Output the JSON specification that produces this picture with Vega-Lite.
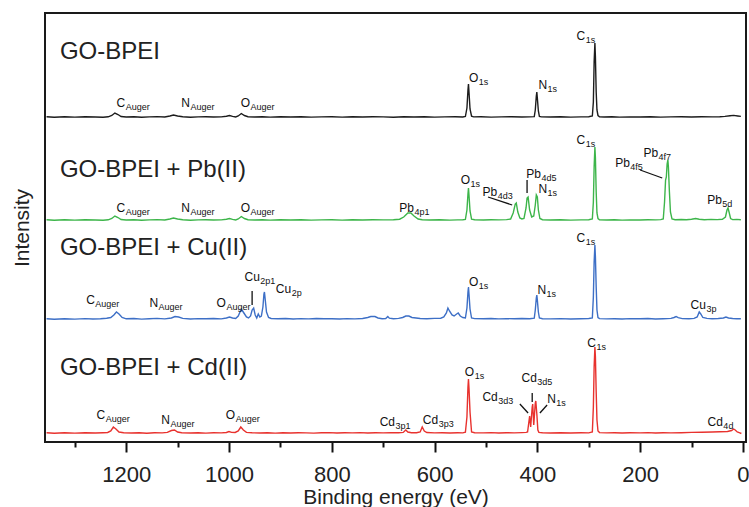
{
"$schema":"https://vega.github.io/schema/vega-lite/v6.json",
"width":701,"height":429,
"autosize":{"type":"none"},
"padding":{"left":45,"top":13,"right":3,"bottom":65},
"background":"white",
"config":{"view":{"stroke":"#1a1a1a","strokeWidth":2},"font":"Liberation Sans"},
"datasets":{
"spectra":[
{"s":"BPEI","e":1355,"i":325.2},{"s":"BPEI","e":1340,"i":324.8},{"s":"BPEI","e":1320,"i":325.3},{"s":"BPEI","e":1300,"i":324.9},{"s":"BPEI","e":1280,"i":325.2},{"s":"BPEI","e":1260,"i":325.0},{"s":"BPEI","e":1245,"i":324.8},{"s":"BPEI","e":1235,"i":325.2},{"s":"BPEI","e":1228,"i":326.5},{"s":"BPEI","e":1222,"i":329},{"s":"BPEI","e":1216,"i":327.5},{"s":"BPEI","e":1210,"i":325.5},{"s":"BPEI","e":1200,"i":325.0},{"s":"BPEI","e":1185,"i":325.3},{"s":"BPEI","e":1170,"i":324.8},{"s":"BPEI","e":1155,"i":325.1},{"s":"BPEI","e":1140,"i":325.4},{"s":"BPEI","e":1125,"i":325.0},{"s":"BPEI","e":1115,"i":326},{"s":"BPEI","e":1108,"i":327},{"s":"BPEI","e":1100,"i":326},{"s":"BPEI","e":1090,"i":325.2},{"s":"BPEI","e":1075,"i":324.8},{"s":"BPEI","e":1060,"i":325.1},{"s":"BPEI","e":1045,"i":325.3},{"s":"BPEI","e":1030,"i":325.0},{"s":"BPEI","e":1015,"i":325.1},{"s":"BPEI","e":1005,"i":325.8},{"s":"BPEI","e":999,"i":326.5},{"s":"BPEI","e":993,"i":325.6},{"s":"BPEI","e":987,"i":325.0},{"s":"BPEI","e":982,"i":326},{"s":"BPEI","e":976,"i":328.5},{"s":"BPEI","e":970,"i":326.5},{"s":"BPEI","e":963,"i":325.3},{"s":"BPEI","e":950,"i":325.0},{"s":"BPEI","e":935,"i":325.2},{"s":"BPEI","e":920,"i":324.9},{"s":"BPEI","e":900,"i":325.2},{"s":"BPEI","e":880,"i":325.0},{"s":"BPEI","e":860,"i":325.3},{"s":"BPEI","e":840,"i":324.9},{"s":"BPEI","e":820,"i":325.1},{"s":"BPEI","e":800,"i":325.3},{"s":"BPEI","e":780,"i":324.9},{"s":"BPEI","e":760,"i":325.2},{"s":"BPEI","e":740,"i":325.0},{"s":"BPEI","e":720,"i":325.3},{"s":"BPEI","e":700,"i":325.1},{"s":"BPEI","e":680,"i":324.8},{"s":"BPEI","e":660,"i":325.2},{"s":"BPEI","e":640,"i":325.0},{"s":"BPEI","e":620,"i":325.2},{"s":"BPEI","e":600,"i":324.9},{"s":"BPEI","e":580,"i":325.1},{"s":"BPEI","e":560,"i":325.2},{"s":"BPEI","e":545,"i":325.0},{"s":"BPEI","e":540,"i":325.5},{"s":"BPEI","e":537,"i":334},{"s":"BPEI","e":535,"i":352},{"s":"BPEI","e":534,"i":358},{"s":"BPEI","e":533,"i":350},{"s":"BPEI","e":531,"i":333},{"s":"BPEI","e":528,"i":325.8},{"s":"BPEI","e":524,"i":325.1},{"s":"BPEI","e":510,"i":325.2},{"s":"BPEI","e":490,"i":324.9},{"s":"BPEI","e":470,"i":325.1},{"s":"BPEI","e":450,"i":325.3},{"s":"BPEI","e":430,"i":325.0},{"s":"BPEI","e":415,"i":325.1},{"s":"BPEI","e":406,"i":325.4},{"s":"BPEI","e":404,"i":332},{"s":"BPEI","e":402,"i":346},{"s":"BPEI","e":401,"i":350},{"s":"BPEI","e":400,"i":344},{"s":"BPEI","e":398,"i":331},{"s":"BPEI","e":396,"i":325.6},{"s":"BPEI","e":392,"i":325.1},{"s":"BPEI","e":375,"i":325.0},{"s":"BPEI","e":355,"i":325.2},{"s":"BPEI","e":335,"i":324.9},{"s":"BPEI","e":315,"i":325.1},{"s":"BPEI","e":300,"i":325.3},{"s":"BPEI","e":293,"i":326},{"s":"BPEI","e":291,"i":340},{"s":"BPEI","e":289.5,"i":380},{"s":"BPEI","e":288,"i":399},{"s":"BPEI","e":287,"i":385},{"s":"BPEI","e":285.5,"i":350},{"s":"BPEI","e":284,"i":332},{"s":"BPEI","e":282,"i":326.5},{"s":"BPEI","e":279,"i":325.3},{"s":"BPEI","e":270,"i":325.0},{"s":"BPEI","e":255,"i":325.2},{"s":"BPEI","e":240,"i":324.9},{"s":"BPEI","e":220,"i":325.1},{"s":"BPEI","e":200,"i":325.0},{"s":"BPEI","e":180,"i":325.2},{"s":"BPEI","e":160,"i":324.9},{"s":"BPEI","e":140,"i":325.1},{"s":"BPEI","e":120,"i":325.3},{"s":"BPEI","e":100,"i":325.0},{"s":"BPEI","e":80,"i":325.2},{"s":"BPEI","e":60,"i":325.1},{"s":"BPEI","e":45,"i":325.3},{"s":"BPEI","e":35,"i":325.6},{"s":"BPEI","e":25,"i":326.3},{"s":"BPEI","e":18,"i":326.6},{"s":"BPEI","e":10,"i":326.0},{"s":"BPEI","e":4,"i":325.6},
{"s":"Pb","e":1355,"i":222.2},{"s":"Pb","e":1340,"i":221.8},{"s":"Pb","e":1320,"i":222.3},{"s":"Pb","e":1300,"i":221.9},{"s":"Pb","e":1280,"i":222.2},{"s":"Pb","e":1260,"i":222.0},{"s":"Pb","e":1245,"i":221.8},{"s":"Pb","e":1235,"i":222.2},{"s":"Pb","e":1228,"i":223.5},{"s":"Pb","e":1222,"i":226},{"s":"Pb","e":1216,"i":224.5},{"s":"Pb","e":1210,"i":222.5},{"s":"Pb","e":1200,"i":222.0},{"s":"Pb","e":1185,"i":222.3},{"s":"Pb","e":1170,"i":221.8},{"s":"Pb","e":1155,"i":222.1},{"s":"Pb","e":1140,"i":222.4},{"s":"Pb","e":1125,"i":222.0},{"s":"Pb","e":1115,"i":223},{"s":"Pb","e":1108,"i":224},{"s":"Pb","e":1100,"i":223},{"s":"Pb","e":1090,"i":222.2},{"s":"Pb","e":1075,"i":221.8},{"s":"Pb","e":1060,"i":222.1},{"s":"Pb","e":1045,"i":222.3},{"s":"Pb","e":1030,"i":222.0},{"s":"Pb","e":1015,"i":222.1},{"s":"Pb","e":1005,"i":222.8},{"s":"Pb","e":999,"i":223.5},{"s":"Pb","e":993,"i":222.6},{"s":"Pb","e":987,"i":222.0},{"s":"Pb","e":982,"i":223},{"s":"Pb","e":976,"i":225.5},{"s":"Pb","e":970,"i":223.5},{"s":"Pb","e":963,"i":222.3},{"s":"Pb","e":950,"i":222.0},{"s":"Pb","e":935,"i":222.2},{"s":"Pb","e":920,"i":221.9},{"s":"Pb","e":900,"i":222.2},{"s":"Pb","e":880,"i":222.0},{"s":"Pb","e":860,"i":222.3},{"s":"Pb","e":840,"i":221.9},{"s":"Pb","e":820,"i":222.1},{"s":"Pb","e":800,"i":222.3},{"s":"Pb","e":780,"i":221.9},{"s":"Pb","e":760,"i":222.2},{"s":"Pb","e":740,"i":222.0},{"s":"Pb","e":720,"i":222.3},{"s":"Pb","e":700,"i":222.1},{"s":"Pb","e":680,"i":222.2},{"s":"Pb","e":668,"i":222.8},{"s":"Pb","e":660,"i":225},{"s":"Pb","e":652,"i":229},{"s":"Pb","e":646,"i":229},{"s":"Pb","e":640,"i":226},{"s":"Pb","e":632,"i":223},{"s":"Pb","e":624,"i":222.3},{"s":"Pb","e":610,"i":222.0},{"s":"Pb","e":590,"i":222.2},{"s":"Pb","e":570,"i":221.9},{"s":"Pb","e":555,"i":222.1},{"s":"Pb","e":545,"i":222.2},{"s":"Pb","e":540,"i":222.6},{"s":"Pb","e":537,"i":232},{"s":"Pb","e":535,"i":248},{"s":"Pb","e":534,"i":254},{"s":"Pb","e":533,"i":247},{"s":"Pb","e":531,"i":231},{"s":"Pb","e":528,"i":222.8},{"s":"Pb","e":522,"i":222.2},{"s":"Pb","e":505,"i":222.0},{"s":"Pb","e":490,"i":222.3},{"s":"Pb","e":475,"i":222.1},{"s":"Pb","e":460,"i":222.4},{"s":"Pb","e":452,"i":223},{"s":"Pb","e":447,"i":229},{"s":"Pb","e":443,"i":238},{"s":"Pb","e":441,"i":239},{"s":"Pb","e":438,"i":230},{"s":"Pb","e":434,"i":224},{"s":"Pb","e":430,"i":223},{"s":"Pb","e":426,"i":223.5},{"s":"Pb","e":422,"i":234},{"s":"Pb","e":420,"i":244},{"s":"Pb","e":418,"i":245},{"s":"Pb","e":415,"i":232},{"s":"Pb","e":411,"i":225},{"s":"Pb","e":407,"i":226},{"s":"Pb","e":404,"i":237},{"s":"Pb","e":402,"i":247},{"s":"Pb","e":400,"i":245},{"s":"Pb","e":398,"i":232},{"s":"Pb","e":395,"i":223.5},{"s":"Pb","e":390,"i":222.3},{"s":"Pb","e":375,"i":222.0},{"s":"Pb","e":355,"i":222.2},{"s":"Pb","e":335,"i":221.9},{"s":"Pb","e":315,"i":222.1},{"s":"Pb","e":300,"i":222.3},{"s":"Pb","e":293,"i":223},{"s":"Pb","e":291,"i":240},{"s":"Pb","e":289.5,"i":275},{"s":"Pb","e":288,"i":295},{"s":"Pb","e":287,"i":284},{"s":"Pb","e":285.5,"i":250},{"s":"Pb","e":284,"i":229},{"s":"Pb","e":282,"i":223.5},{"s":"Pb","e":279,"i":222.3},{"s":"Pb","e":265,"i":222.0},{"s":"Pb","e":250,"i":222.2},{"s":"Pb","e":235,"i":221.9},{"s":"Pb","e":220,"i":222.1},{"s":"Pb","e":200,"i":222.0},{"s":"Pb","e":185,"i":222.2},{"s":"Pb","e":170,"i":222.1},{"s":"Pb","e":160,"i":222.4},{"s":"Pb","e":155,"i":223},{"s":"Pb","e":152.5,"i":240},{"s":"Pb","e":150.5,"i":262},{"s":"Pb","e":149,"i":265},{"s":"Pb","e":147.5,"i":278},{"s":"Pb","e":146,"i":282},{"s":"Pb","e":145,"i":275},{"s":"Pb","e":143,"i":250},{"s":"Pb","e":141,"i":230},{"s":"Pb","e":138,"i":223},{"s":"Pb","e":132,"i":222.3},{"s":"Pb","e":120,"i":222.5},{"s":"Pb","e":110,"i":222.2},{"s":"Pb","e":100,"i":222.8},{"s":"Pb","e":92,"i":223.5},{"s":"Pb","e":85,"i":222.8},{"s":"Pb","e":75,"i":222.3},{"s":"Pb","e":62,"i":222.6},{"s":"Pb","e":50,"i":222.4},{"s":"Pb","e":40,"i":222.8},{"s":"Pb","e":34,"i":225},{"s":"Pb","e":31,"i":232},{"s":"Pb","e":29,"i":234},{"s":"Pb","e":27,"i":230},{"s":"Pb","e":24,"i":223.5},{"s":"Pb","e":20,"i":222.4},{"s":"Pb","e":12,"i":222.6},{"s":"Pb","e":4,"i":222.3},
{"s":"Cu","e":1355,"i":123.2},{"s":"Cu","e":1340,"i":122.8},{"s":"Cu","e":1320,"i":123.3},{"s":"Cu","e":1300,"i":122.9},{"s":"Cu","e":1280,"i":123.4},{"s":"Cu","e":1265,"i":123.0},{"s":"Cu","e":1250,"i":123.3},{"s":"Cu","e":1238,"i":123.8},{"s":"Cu","e":1230,"i":124.5},{"s":"Cu","e":1224,"i":127},{"s":"Cu","e":1219,"i":130},{"s":"Cu","e":1214,"i":128},{"s":"Cu","e":1208,"i":124.5},{"s":"Cu","e":1200,"i":123.2},{"s":"Cu","e":1185,"i":123.5},{"s":"Cu","e":1170,"i":122.9},{"s":"Cu","e":1155,"i":123.3},{"s":"Cu","e":1140,"i":123.6},{"s":"Cu","e":1125,"i":123.1},{"s":"Cu","e":1112,"i":124},{"s":"Cu","e":1105,"i":125.5},{"s":"Cu","e":1098,"i":125},{"s":"Cu","e":1090,"i":123.6},{"s":"Cu","e":1075,"i":123.0},{"s":"Cu","e":1060,"i":123.4},{"s":"Cu","e":1045,"i":123.2},{"s":"Cu","e":1030,"i":123.5},{"s":"Cu","e":1015,"i":123.1},{"s":"Cu","e":1005,"i":124},{"s":"Cu","e":999,"i":125},{"s":"Cu","e":993,"i":124},{"s":"Cu","e":987,"i":123.5},{"s":"Cu","e":982,"i":126},{"s":"Cu","e":976,"i":133},{"s":"Cu","e":971,"i":129},{"s":"Cu","e":966,"i":125},{"s":"Cu","e":962,"i":124},{"s":"Cu","e":958,"i":126},{"s":"Cu","e":955,"i":132},{"s":"Cu","e":952,"i":134},{"s":"Cu","e":949,"i":127},{"s":"Cu","e":946,"i":124},{"s":"Cu","e":943,"i":128},{"s":"Cu","e":940,"i":125},{"s":"Cu","e":937,"i":126},{"s":"Cu","e":934,"i":135},{"s":"Cu","e":932,"i":148},{"s":"Cu","e":931,"i":150},{"s":"Cu","e":930,"i":145},{"s":"Cu","e":927,"i":130},{"s":"Cu","e":923,"i":124.5},{"s":"Cu","e":918,"i":123.5},{"s":"Cu","e":905,"i":123.2},{"s":"Cu","e":890,"i":123.5},{"s":"Cu","e":875,"i":123.0},{"s":"Cu","e":860,"i":123.4},{"s":"Cu","e":845,"i":123.1},{"s":"Cu","e":830,"i":123.5},{"s":"Cu","e":815,"i":123.2},{"s":"Cu","e":800,"i":123.3},{"s":"Cu","e":785,"i":123.0},{"s":"Cu","e":770,"i":123.4},{"s":"Cu","e":755,"i":123.1},{"s":"Cu","e":740,"i":123.5},{"s":"Cu","e":730,"i":124.5},{"s":"Cu","e":724,"i":125.5},{"s":"Cu","e":716,"i":125.5},{"s":"Cu","e":710,"i":124},{"s":"Cu","e":702,"i":123.3},{"s":"Cu","e":695,"i":123.5},{"s":"Cu","e":691,"i":125.5},{"s":"Cu","e":688,"i":123.8},{"s":"Cu","e":680,"i":123.3},{"s":"Cu","e":670,"i":123.6},{"s":"Cu","e":662,"i":124.5},{"s":"Cu","e":656,"i":126},{"s":"Cu","e":650,"i":126},{"s":"Cu","e":644,"i":124.5},{"s":"Cu","e":636,"i":124},{"s":"Cu","e":628,"i":123.5},{"s":"Cu","e":615,"i":123.3},{"s":"Cu","e":600,"i":123.6},{"s":"Cu","e":588,"i":123.8},{"s":"Cu","e":582,"i":125},{"s":"Cu","e":577,"i":129},{"s":"Cu","e":574,"i":134},{"s":"Cu","e":571,"i":131},{"s":"Cu","e":566,"i":127},{"s":"Cu","e":562,"i":126},{"s":"Cu","e":557,"i":128},{"s":"Cu","e":554,"i":129},{"s":"Cu","e":550,"i":126},{"s":"Cu","e":545,"i":124.5},{"s":"Cu","e":540,"i":124},{"s":"Cu","e":537,"i":134},{"s":"Cu","e":535,"i":150},{"s":"Cu","e":534,"i":155},{"s":"Cu","e":533,"i":148},{"s":"Cu","e":531,"i":133},{"s":"Cu","e":528,"i":124},{"s":"Cu","e":522,"i":123.4},{"s":"Cu","e":505,"i":123.2},{"s":"Cu","e":490,"i":123.5},{"s":"Cu","e":475,"i":123.1},{"s":"Cu","e":460,"i":123.4},{"s":"Cu","e":445,"i":123.2},{"s":"Cu","e":430,"i":123.5},{"s":"Cu","e":415,"i":123.3},{"s":"Cu","e":406,"i":123.8},{"s":"Cu","e":404,"i":132},{"s":"Cu","e":402,"i":144},{"s":"Cu","e":401,"i":147},{"s":"Cu","e":400,"i":142},{"s":"Cu","e":398,"i":130},{"s":"Cu","e":396,"i":124},{"s":"Cu","e":390,"i":123.3},{"s":"Cu","e":375,"i":123.1},{"s":"Cu","e":355,"i":123.4},{"s":"Cu","e":335,"i":123.0},{"s":"Cu","e":315,"i":123.3},{"s":"Cu","e":300,"i":123.5},{"s":"Cu","e":293,"i":124},{"s":"Cu","e":291,"i":145},{"s":"Cu","e":289.5,"i":180},{"s":"Cu","e":288,"i":197},{"s":"Cu","e":287,"i":185},{"s":"Cu","e":285.5,"i":155},{"s":"Cu","e":284,"i":132},{"s":"Cu","e":282,"i":124.5},{"s":"Cu","e":279,"i":123.4},{"s":"Cu","e":265,"i":123.1},{"s":"Cu","e":250,"i":123.3},{"s":"Cu","e":235,"i":123.0},{"s":"Cu","e":220,"i":123.4},{"s":"Cu","e":200,"i":123.2},{"s":"Cu","e":185,"i":123.5},{"s":"Cu","e":170,"i":123.0},{"s":"Cu","e":155,"i":123.3},{"s":"Cu","e":140,"i":123.6},{"s":"Cu","e":134,"i":124.5},{"s":"Cu","e":130,"i":125.5},{"s":"Cu","e":126,"i":124.3},{"s":"Cu","e":118,"i":123.4},{"s":"Cu","e":105,"i":123.2},{"s":"Cu","e":95,"i":123.6},{"s":"Cu","e":89,"i":125},{"s":"Cu","e":85,"i":130},{"s":"Cu","e":82,"i":128},{"s":"Cu","e":78,"i":124.5},{"s":"Cu","e":70,"i":123.6},{"s":"Cu","e":60,"i":123.3},{"s":"Cu","e":48,"i":123.5},{"s":"Cu","e":38,"i":124},{"s":"Cu","e":33,"i":125},{"s":"Cu","e":28,"i":124},{"s":"Cu","e":20,"i":123.5},{"s":"Cu","e":12,"i":123.3},{"s":"Cu","e":4,"i":123.2},
{"s":"Cd","e":1355,"i":9.2},{"s":"Cd","e":1340,"i":8.8},{"s":"Cd","e":1320,"i":9.3},{"s":"Cd","e":1300,"i":8.9},{"s":"Cd","e":1280,"i":9.2},{"s":"Cd","e":1260,"i":9.0},{"s":"Cd","e":1245,"i":9.3},{"s":"Cd","e":1236,"i":9.5},{"s":"Cd","e":1230,"i":11},{"s":"Cd","e":1225,"i":15},{"s":"Cd","e":1220,"i":13},{"s":"Cd","e":1214,"i":10},{"s":"Cd","e":1205,"i":9.2},{"s":"Cd","e":1190,"i":9.0},{"s":"Cd","e":1175,"i":9.3},{"s":"Cd","e":1160,"i":8.8},{"s":"Cd","e":1145,"i":9.2},{"s":"Cd","e":1130,"i":9.1},{"s":"Cd","e":1120,"i":9.6},{"s":"Cd","e":1112,"i":11.5},{"s":"Cd","e":1106,"i":12},{"s":"Cd","e":1100,"i":10},{"s":"Cd","e":1092,"i":9.3},{"s":"Cd","e":1075,"i":9.0},{"s":"Cd","e":1060,"i":9.2},{"s":"Cd","e":1045,"i":8.9},{"s":"Cd","e":1030,"i":9.3},{"s":"Cd","e":1015,"i":9.1},{"s":"Cd","e":1005,"i":9.5},{"s":"Cd","e":1000,"i":10.5},{"s":"Cd","e":995,"i":9.6},{"s":"Cd","e":988,"i":9.5},{"s":"Cd","e":982,"i":11},{"s":"Cd","e":977,"i":15},{"s":"Cd","e":972,"i":12},{"s":"Cd","e":966,"i":9.6},{"s":"Cd","e":955,"i":9.2},{"s":"Cd","e":940,"i":9.0},{"s":"Cd","e":925,"i":9.3},{"s":"Cd","e":910,"i":8.9},{"s":"Cd","e":895,"i":9.2},{"s":"Cd","e":880,"i":9.0},{"s":"Cd","e":865,"i":9.3},{"s":"Cd","e":850,"i":9.1},{"s":"Cd","e":835,"i":8.9},{"s":"Cd","e":820,"i":9.2},{"s":"Cd","e":805,"i":9.4},{"s":"Cd","e":790,"i":9.0},{"s":"Cd","e":775,"i":9.2},{"s":"Cd","e":760,"i":9.1},{"s":"Cd","e":745,"i":9.4},{"s":"Cd","e":730,"i":9.0},{"s":"Cd","e":715,"i":9.3},{"s":"Cd","e":700,"i":9.1},{"s":"Cd","e":685,"i":9.4},{"s":"Cd","e":670,"i":9.2},{"s":"Cd","e":661,"i":9.6},{"s":"Cd","e":656,"i":12},{"s":"Cd","e":652,"i":10},{"s":"Cd","e":645,"i":9.3},{"s":"Cd","e":635,"i":9.2},{"s":"Cd","e":628,"i":10},{"s":"Cd","e":624,"i":15},{"s":"Cd","e":620,"i":11},{"s":"Cd","e":615,"i":9.5},{"s":"Cd","e":600,"i":9.1},{"s":"Cd","e":585,"i":9.3},{"s":"Cd","e":570,"i":9.0},{"s":"Cd","e":555,"i":9.2},{"s":"Cd","e":545,"i":9.1},{"s":"Cd","e":540,"i":9.8},{"s":"Cd","e":537,"i":25},{"s":"Cd","e":535,"i":55},{"s":"Cd","e":534,"i":63},{"s":"Cd","e":533,"i":54},{"s":"Cd","e":531,"i":30},{"s":"Cd","e":528,"i":10},{"s":"Cd","e":522,"i":9.3},{"s":"Cd","e":505,"i":9.1},{"s":"Cd","e":490,"i":9.4},{"s":"Cd","e":475,"i":9.0},{"s":"Cd","e":460,"i":9.3},{"s":"Cd","e":445,"i":9.1},{"s":"Cd","e":430,"i":9.4},{"s":"Cd","e":422,"i":9.6},{"s":"Cd","e":419,"i":10},{"s":"Cd","e":417,"i":18},{"s":"Cd","e":415,"i":26},{"s":"Cd","e":413,"i":15},{"s":"Cd","e":410,"i":35},{"s":"Cd","e":409,"i":38},{"s":"Cd","e":407,"i":17},{"s":"Cd","e":404,"i":39},{"s":"Cd","e":403,"i":41},{"s":"Cd","e":401,"i":28},{"s":"Cd","e":399,"i":12},{"s":"Cd","e":397,"i":9.6},{"s":"Cd","e":390,"i":9.3},{"s":"Cd","e":375,"i":9.0},{"s":"Cd","e":355,"i":9.2},{"s":"Cd","e":335,"i":9.0},{"s":"Cd","e":315,"i":9.3},{"s":"Cd","e":300,"i":9.1},{"s":"Cd","e":293,"i":10},{"s":"Cd","e":291,"i":35},{"s":"Cd","e":289.5,"i":75},{"s":"Cd","e":288,"i":95},{"s":"Cd","e":287,"i":85},{"s":"Cd","e":285.5,"i":50},{"s":"Cd","e":284,"i":22},{"s":"Cd","e":282,"i":11},{"s":"Cd","e":279,"i":9.4},{"s":"Cd","e":265,"i":9.1},{"s":"Cd","e":250,"i":9.3},{"s":"Cd","e":235,"i":9.0},{"s":"Cd","e":220,"i":9.2},{"s":"Cd","e":200,"i":9.1},{"s":"Cd","e":185,"i":9.4},{"s":"Cd","e":170,"i":9.0},{"s":"Cd","e":155,"i":9.3},{"s":"Cd","e":140,"i":9.1},{"s":"Cd","e":120,"i":9.3},{"s":"Cd","e":100,"i":9.6},{"s":"Cd","e":80,"i":9.8},{"s":"Cd","e":60,"i":10},{"s":"Cd","e":45,"i":10.2},{"s":"Cd","e":30,"i":10.5},{"s":"Cd","e":22,"i":11.5},{"s":"Cd","e":18,"i":13},{"s":"Cd","e":15,"i":12},{"s":"Cd","e":11,"i":10},{"s":"Cd","e":6,"i":9.2},{"s":"Cd","e":3,"i":8.5}
],
"labels":[
{"e":1202,"i":339,"m":"C","sub":"Auger"},{"e":1076,"i":339,"m":"N","sub":"Auger"},{"e":959,"i":339,"m":"O","sub":"Auger"},{"e":515,"i":364,"m":"O","sub":"1s"},{"e":381,"i":357,"m":"N","sub":"1s"},{"e":307,"i":406,"m":"C","sub":"1s"},
{"e":1202,"i":234,"m":"C","sub":"Auger"},{"e":1076,"i":234,"m":"N","sub":"Auger"},{"e":959,"i":234,"m":"O","sub":"Auger"},{"e":640,"i":234,"m":"Pb","sub":"4p1"},{"e":531,"i":262,"m":"O","sub":"1s"},{"e":478,"i":250,"m":"Pb","sub":"4d3"},{"e":393,"i":268,"m":"Pb","sub":"4d5"},{"e":381,"i":253,"m":"N","sub":"1s"},{"e":307,"i":302,"m":"C","sub":"1s"},{"e":220,"i":279,"m":"Pb","sub":"4f5"},{"e":165,"i":289,"m":"Pb","sub":"4f7"},{"e":41,"i":242,"m":"Pb","sub":"5d"},
{"e":1261,"i":142,"m":"C","sub":"Auger"},{"e":1138,"i":139,"m":"N","sub":"Auger"},{"e":1006,"i":139,"m":"O","sub":"Auger"},{"e":940,"i":165,"m":"Cu","sub":"2p1"},{"e":879,"i":153,"m":"Cu","sub":"2p"},{"e":515,"i":160,"m":"O","sub":"1s"},{"e":383,"i":152,"m":"N","sub":"1s"},{"e":307,"i":204,"m":"C","sub":"1s"},{"e":72,"i":137,"m":"Cu","sub":"3p"},
{"e":1241,"i":27,"m":"C","sub":"Auger"},{"e":1115,"i":22,"m":"N","sub":"Auger"},{"e":988,"i":27,"m":"O","sub":"Auger"},{"e":677,"i":20,"m":"Cd","sub":"3p1"},{"e":593,"i":22,"m":"Cd","sub":"3p3"},{"e":523,"i":70,"m":"O","sub":"1s"},{"e":477,"i":45,"m":"Cd","sub":"3d3"},{"e":401,"i":64,"m":"Cd","sub":"3d5"},{"e":364,"i":43,"m":"N","sub":"1s"},{"e":286,"i":99,"m":"C","sub":"1s"},{"e":39,"i":20,"m":"Cd","sub":"4d"}
],
"leaders":[
{"e":496,"i":245,"e2":449,"i2":237},{"e":420,"i":262,"e2":420,"i2":249},{"e":200,"i":272,"e2":157,"i2":264},{"e":955,"i":151,"e2":955,"i2":137},{"e":434,"i":38,"e2":418,"i2":29},{"e":410,"i":49,"e2":410,"i2":40},{"e":381,"i":37,"e2":395,"i2":29}
],
"titles":[
{"e":1329,"i":390,"t":"GO-BPEI"},{"e":1329,"i":272,"t":"GO-BPEI + Pb(II)"},{"e":1329,"i":194,"t":"GO-BPEI + Cu(II)"},{"e":1329,"i":74,"t":"GO-BPEI + Cd(II)"}
]
},
"encoding":{
"x":{"field":"e","type":"quantitative","scale":{"domain":[1358,-6],"nice":false,"zero":false},
 "axis":{"values":[1300,1200,1100,1000,900,800,700,600,500,400,300,200,100,0],"labelExpr":"datum.value % 200 === 0 ? '' + datum.value : ''","tickSize":{"condition":{"test":"datum.value % 200 === 0","value":10},"value":5},"tickWidth":2,"tickColor":"#111","domain":false,"grid":false,"labelFontSize":22,"labelColor":"#222","labelPadding":12,"labelFlush":false,"labelOverlap":false,"title":"Binding energy (eV)","titleFontSize":21,"titleFontWeight":"normal","titleColor":"#222","titlePadding":1}},
"y":{"field":"i","type":"quantitative","scale":{"domain":[0,429],"nice":false,"zero":false},
 "axis":{"title":"Intensity","labels":false,"ticks":false,"domain":false,"grid":false,"titleFontSize":21,"titleFontWeight":"normal","titleColor":"#222","titlePadding":13}}
},
"layer":[
{"data":{"name":"spectra"},"mark":{"type":"line","strokeWidth":1.4,"clip":true},
 "encoding":{"color":{"field":"s","type":"nominal","scale":{"domain":["BPEI","Pb","Cu","Cd"],"range":["#1c1c1c","#3db54a","#3d6fc6","#e8322e"]},"legend":null}}},
{"data":{"name":"leaders"},"mark":{"type":"rule","color":"#111","strokeWidth":1.3},
 "encoding":{"x2":{"field":"e2"},"y2":{"field":"i2"}}},
{"data":{"name":"labels"},"mark":{"type":"text","align":"right","baseline":"middle","fontSize":12,"color":"#111"},
 "encoding":{"text":{"field":"m"}}},
{"data":{"name":"labels"},"mark":{"type":"text","align":"left","baseline":"middle","fontSize":9,"dy":4,"dx":0.5,"color":"#111"},
 "encoding":{"text":{"field":"sub"}}},
{"data":{"name":"titles"},"mark":{"type":"text","align":"left","baseline":"middle","fontSize":24,"color":"#222"},
 "encoding":{"text":{"field":"t"}}}
]
}
